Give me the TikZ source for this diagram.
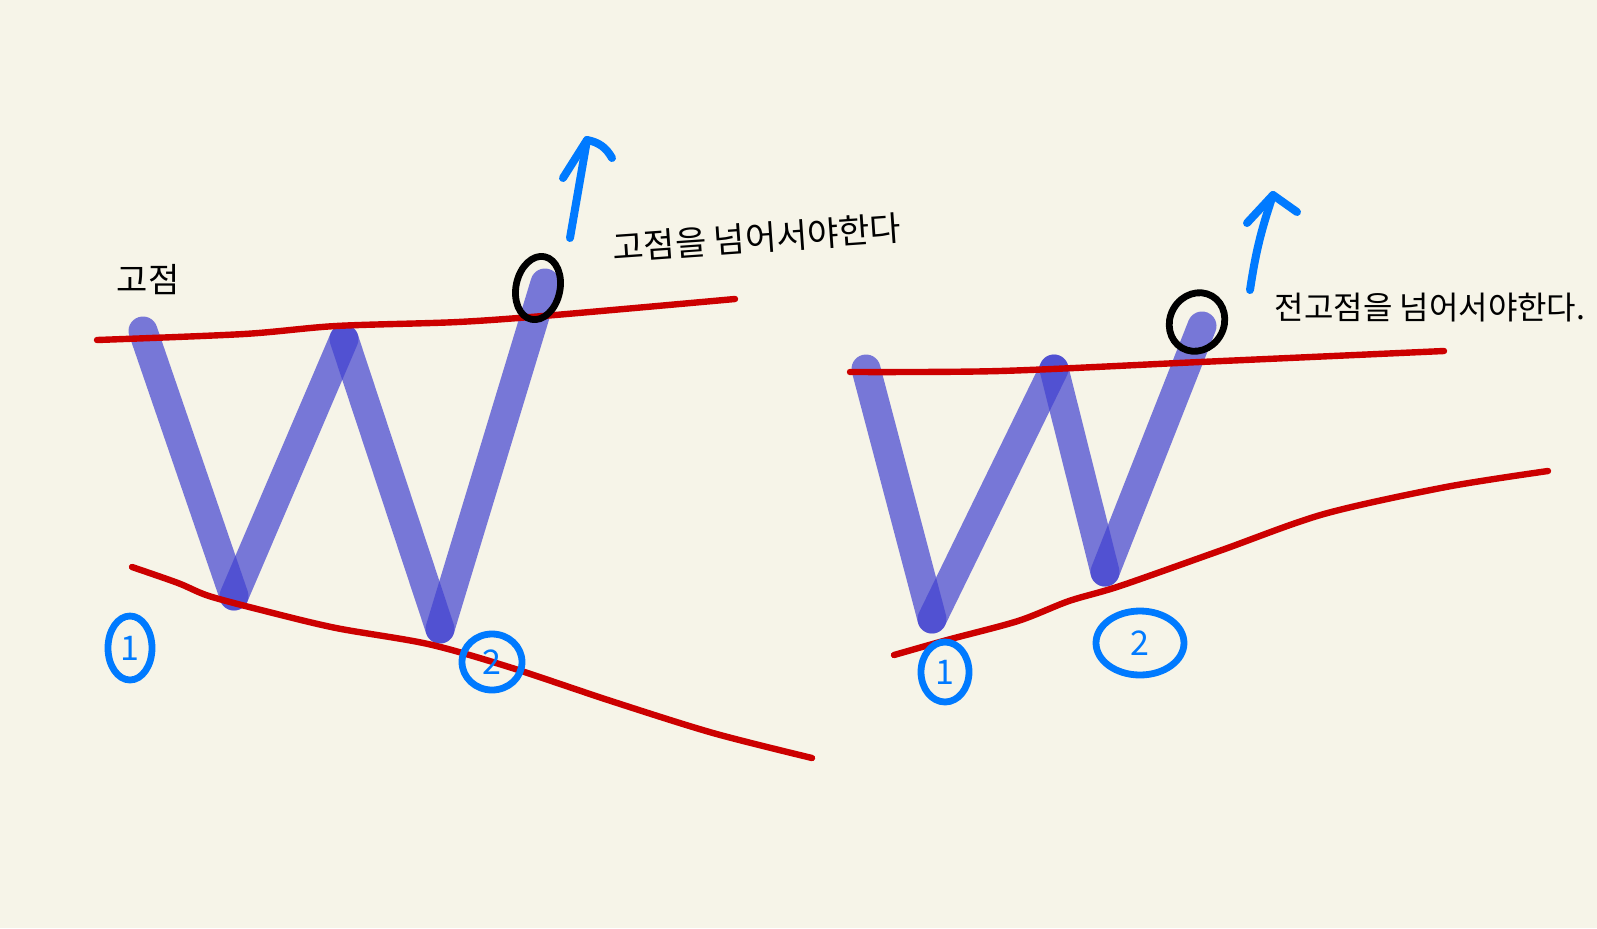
\documentclass[tikz,border=0pt]{standalone}
\usepackage{fontspec}
\newfontfamily\kr{Noto Sans CJK KR}
\usetikzlibrary{shapes.geometric}
\definecolor{paper}{RGB}{246,244,232}
\definecolor{wblue}{RGB}{66,66,208}
\definecolor{trend}{RGB}{204,0,0}
\definecolor{pen}{RGB}{0,122,255}

\begin{document}
\begin{tikzpicture}[x=0.5pt, y=-0.5pt, line cap=round, line join=round,
    leg/.style={wblue, opacity=0.7, line width=14.5pt},
    trendline/.style={trend, line width=3.2pt},
    uparrow/.style={pen, line width=4pt},
    ringnum/.style={ellipse, draw=pen, line width=3.4pt, inner sep=0pt, text=pen, font=\kr\fontsize{17}{18}\selectfont},
    breakloop/.style={ellipse, draw=black, line width=3.4pt, inner sep=0pt}]
    \fill[paper] (0,0) rectangle (1597,928);
    \useasboundingbox (0,0) rectangle (1597,928);

    % left W
    \coordinate (l1) at (143,331);
    \coordinate (l2) at (234,596);
    \coordinate (l3) at (344,339);
    \coordinate (l4) at (440,629);
    \coordinate (l5) at (545,283);
    \draw[leg] (l1) -- (l2);
    \draw[leg] (l2) -- (l3);
    \draw[leg] (l3) -- (l4);
    \draw[leg] (l4) -- (l5);

    % right W
    \coordinate (r1) at (866,369);
    \coordinate (r2) at (932,619);
    \coordinate (r3) at (1054,369);
    \coordinate (r4) at (1105,572);
    \coordinate (r5) at (1202,326);
    \draw[leg] (r1) -- (r2);
    \draw[leg] (r2) -- (r3);
    \draw[leg] (r3) -- (r4);
    \draw[leg] (r4) -- (r5);

    % trend lines
    \draw[trendline] plot[smooth] coordinates {(97,340) (244,334) (336,326) (458,322) (555,315) (735,299)};
    \draw[trendline] plot[smooth] coordinates {(132,567) (178,583) (209,596) (265,611) (336,628) (428,644) (509,667) (611,701) (713,733) (812,758)};
    \draw[trendline] plot[smooth] coordinates {(850,372) (1000,371) (1200,362) (1444,351)};
    \draw[trendline] plot[smooth] coordinates {(894,655) (947,640) (1018,621) (1069,601) (1120,586) (1222,550) (1324,514) (1446,487) (1548,471)};

    % breakout marks
    \node[breakloop, minimum width=22pt, minimum height=32pt, rotate=-12] (brkL) at (538,288) {};
    \node[breakloop, minimum width=27pt, minimum height=30pt, rotate=-30] (brkR) at (1197,322) {};

    % arrows
    \coordinate (tipL) at (587,140);
    \draw[uparrow] (570,238) -- (tipL);
    \draw[uparrow] (563,178) -- (tipL) to[bend left=25] (612,158);
    \coordinate (tipR) at (1273,195);
    \draw[uparrow] (1250,290) to[bend left=5] (tipR);
    \draw[uparrow] (1247,223) -- (tipR) -- (1297,212);

    % labels
    \node[font=\kr\fontsize{17}{18}\selectfont] (peak) at (148,280) {고점};
    \node[font=\kr\fontsize{17}{18}\selectfont, rotate=4] (noteL) at (757,238) {고점을 넘어서야한다};
    \node[font=\kr\fontsize{16}{17}\selectfont] (noteR) at (1430,308) {전고점을 넘어서야한다.};

    % numbered lows
    \node[ringnum, minimum width=22pt, minimum height=32pt] (lowL1) at (130,648) {1};
    \node[ringnum, minimum width=30pt, minimum height=28pt] (lowL2) at (492,662) {2};
    \node[ringnum, minimum width=24pt, minimum height=30pt] (lowR1) at (945,672) {1};
    \node[ringnum, minimum width=44pt, minimum height=32pt] (lowR2) at (1140,643) {2};
\end{tikzpicture}
\end{document}
